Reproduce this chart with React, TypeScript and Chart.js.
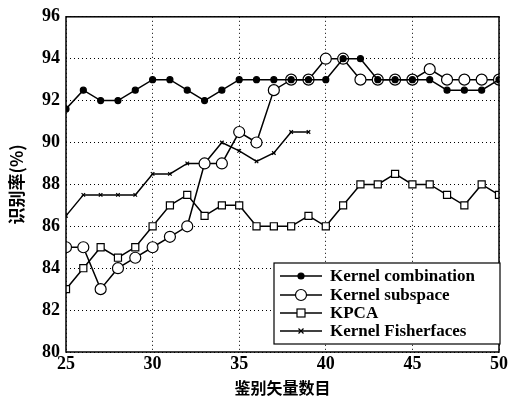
import React, { useEffect, useRef } from "react";
import { Chart, registerables } from "chart.js";
Chart.register(...registerables);

const xs = [25, 26, 27, 28, 29, 30, 31, 32, 33, 34, 35, 36, 37, 38, 39, 40, 41, 42, 43, 44, 45, 46, 47, 48, 49, 50];
const kernelCombination = [91.6, 92.5, 92, 92, 92.5, 93, 93, 92.5, 92, 92.5, 93, 93, 93, 93, 93, 93, 94, 94, 93, 93, 93, 93, 92.5, 92.5, 92.5, 93];
const kernelSubspace = [85, 85, 83, 84, 84.5, 85, 85.5, 86, 89, 89, 90.5, 90, 92.5, 93, 93, 94, 94, 93, 93, 93, 93, 93.5, 93, 93, 93, 93];
const kpca = [83, 84, 85, 84.5, 85, 86, 87, 87.5, 86.5, 87, 87, 86, 86, 86, 86.5, 86, 87, 88, 88, 88.5, 88, 88, 87.5, 87, 88, 87.5];
const kernelFisherfaces = [86.5, 87.5, 87.5, 87.5, 87.5, 88.5, 88.5, 89, 89, 90, 89.6, 89.1, 89.5, 90.5, 90.5];
const seriesNames = ["Kernel combination", "Kernel subspace", "KPCA", "Kernel Fisherfaces"];
const xTicks = [25, 30, 35, 40, 45, 50];
const yTicks = [80, 82, 84, 86, 88, 90, 92, 94, 96];
const xTitle = "鉴别矢量数目";
const yTitle = "识别率(%)";

const serif = "'Liberation Serif', 'DejaVu Serif', serif";
const cjk = "'Noto Sans CJK SC', sans-serif";

const pts = (arr: number[]) => arr.map((y, i) => ({ x: xs[i], y }));

const styles = [
  { pointStyle: "circle", radius: 3, bg: "#000" },
  { pointStyle: "circle", radius: 5.5, bg: "#fff" },
  { pointStyle: "rect", radius: 5, bg: "#fff" },
  { pointStyle: "crossRot", radius: 2.5, bg: "#000" },
];

const framePlugin = {
  id: "frameLegend",
  afterDraw(chart: any) {
    const { ctx, chartArea: a } = chart;
    ctx.save();
    ctx.strokeStyle = "#000";
    ctx.lineWidth = 1.5;
    ctx.strokeRect(a.left, a.top, a.right - a.left, a.bottom - a.top);
    // legend box
    const bx = 274, by = 263, bw = 226, bh = 81;
    ctx.fillStyle = "#fff";
    ctx.fillRect(bx, by, bw, bh);
    ctx.lineWidth = 1.2;
    ctx.strokeRect(bx, by, bw, bh);
    const rows = [276, 295, 313, 331];
    chart.data.datasets.forEach((ds: any, i: number) => {
      const y = rows[i];
      ctx.beginPath();
      ctx.lineWidth = 1.5;
      ctx.moveTo(280, y);
      ctx.lineTo(322, y);
      ctx.stroke();
      const st = styles[i];
      ctx.lineWidth = 1.2;
      ctx.fillStyle = st.bg;
      const r = st.radius;
      if (st.pointStyle === "circle") {
        ctx.beginPath();
        ctx.arc(301, y, r, 0, Math.PI * 2);
        ctx.fill();
        ctx.stroke();
      } else if (st.pointStyle === "rect") {
        ctx.fillRect(301 - r * 0.8, y - r * 0.8, r * 1.6, r * 1.6);
        ctx.strokeRect(301 - r * 0.8, y - r * 0.8, r * 1.6, r * 1.6);
      } else {
        ctx.beginPath();
        ctx.moveTo(301 - r, y - r);
        ctx.lineTo(301 + r, y + r);
        ctx.moveTo(301 - r, y + r);
        ctx.lineTo(301 + r, y - r);
        ctx.stroke();
      }
      ctx.fillStyle = "#000";
      ctx.font = `bold 17px ${serif}`;
      ctx.textBaseline = "middle";
      ctx.textAlign = "left";
      ctx.fillText(ds.label, 330, y + 1);
    });
    ctx.restore();
  },
};

export default function App() {
  const ref = useRef<HTMLCanvasElement>(null);
  useEffect(() => {
    document.body.style.margin = "0";
    const datasets = [kernelCombination, kernelSubspace, kpca, kernelFisherfaces].map((arr, i) => ({
      label: seriesNames[i],
      data: pts(arr),
      borderColor: "#000",
      borderWidth: 1.5,
      backgroundColor: styles[i].bg,
      pointBackgroundColor: styles[i].bg,
      pointBorderColor: "#000",
      pointBorderWidth: 1.2,
      pointStyle: styles[i].pointStyle,
      pointRadius: styles[i].radius,
      fill: false,
      tension: 0,
    }));
    const chart = new Chart(ref.current!, {
      type: "line",
      data: { datasets },
      plugins: [framePlugin],
      options: {
        animation: false,
        responsive: false,
        layout: { padding: { top: 13, right: 11, left: 6, bottom: 0 } },
        plugins: { legend: { display: false }, tooltip: { enabled: false } },
        scales: {
          x: {
            type: "linear",
            min: 25,
            max: 50,
            afterBuildTicks: (s: any) => { s.ticks = xTicks.map((v) => ({ value: v })); },
            afterFit: (s: any) => { s.height = 48; },
            grid: { color: "#000", lineWidth: 1, drawTicks: false },
            border: { display: false, dash: [1, 3] },
            ticks: { color: "#000", font: { family: serif, size: 18, weight: "bold" }, padding: 2, maxRotation: 0 },
            title: { display: true, text: xTitle, color: "#000", font: { family: cjk, size: 16, weight: "bold" }, padding: { top: 0, bottom: 2 } },
          },
          y: {
            min: 80,
            max: 96,
            afterBuildTicks: (s: any) => { s.ticks = yTicks.map((v) => ({ value: v })); },
            afterFit: (s: any) => { s.width = 60; },
            grid: { color: "#000", lineWidth: 1, drawTicks: false },
            border: { display: false, dash: [1, 3] },
            ticks: { color: "#000", font: { family: serif, size: 18, weight: "bold" }, padding: 6 },
            title: { display: true, text: yTitle, color: "#000", font: { family: cjk, size: 17, weight: "bold" }, padding: { top: 0, bottom: 0 } },
          },
        },
      } as any,
    });
    return () => chart.destroy();
  }, []);
  return (
    <div style={{ width: 510, height: 400, background: "#fff" }}>
      <canvas ref={ref} width={510} height={400} />
    </div>
  );
}
